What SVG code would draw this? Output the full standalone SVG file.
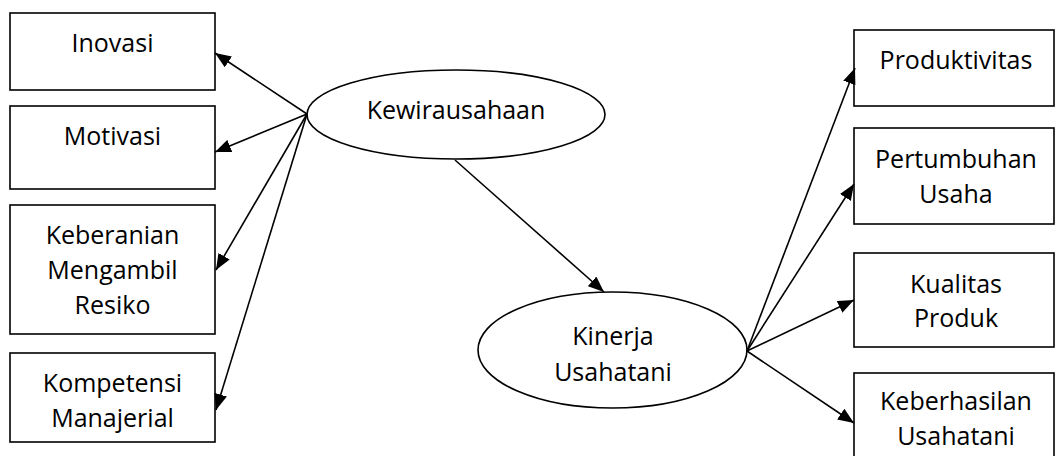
<svg xmlns="http://www.w3.org/2000/svg" width="1055" height="456" viewBox="0 0 1055 456">
  <style>
    .box { fill: #fff; stroke: #000; stroke-width: 1.6; }
    .oval { fill: #fff; stroke: #000; stroke-width: 1.6; }
    .lbl { font-family: "Open Sans", "Liberation Sans", sans-serif; font-size: 25px; fill: #000; text-anchor: middle; }
    .edge { stroke: #000; stroke-width: 1.6; fill: none; marker-end: url(#arrow); }
  </style>
  <defs>
    <marker id="arrow" markerUnits="userSpaceOnUse" markerWidth="16" markerHeight="13" refX="16" refY="6.5" orient="auto">
      <path d="M0,0 L16,6.5 L0,13 z" fill="#000"/>
    </marker>
  </defs>
  <rect width="1055" height="456" fill="#fff"/>

  <!-- indicators of Kewirausahaan -->
  <g id="inovasi">
    <rect class="box" x="10" y="13" width="205" height="77"/>
    <text class="lbl" x="112.5" y="52">Inovasi</text>
  </g>
  <g id="motivasi">
    <rect class="box" x="10" y="106" width="205" height="83"/>
    <text class="lbl" x="112.5" y="145">Motivasi</text>
  </g>
  <g id="keberanian">
    <rect class="box" x="10" y="205" width="205" height="129"/>
    <text class="lbl" x="112.5" y="244">Keberanian</text>
    <text class="lbl" x="112.5" y="279">Mengambil</text>
    <text class="lbl" x="112.5" y="314">Resiko</text>
  </g>
  <g id="kompetensi">
    <rect class="box" x="10" y="353" width="205" height="89"/>
    <text class="lbl" x="112.5" y="392">Kompetensi</text>
    <text class="lbl" x="112.5" y="427">Manajerial</text>
  </g>

  <!-- latent variables -->
  <g id="kewirausahaan">
    <ellipse class="oval" cx="456" cy="114.5" rx="149" ry="44.5"/>
    <text class="lbl" x="456" y="119">Kewirausahaan</text>
  </g>
  <g id="kinerja">
    <ellipse class="oval" cx="612.5" cy="350" rx="134.5" ry="58"/>
    <text class="lbl" x="613" y="345">Kinerja</text>
    <text class="lbl" x="613" y="381">Usahatani</text>
  </g>

  <!-- indicators of Kinerja Usahatani -->
  <g id="produktivitas">
    <rect class="box" x="854" y="30" width="200" height="76"/>
    <text class="lbl" x="956" y="69">Produktivitas</text>
  </g>
  <g id="pertumbuhan">
    <rect class="box" x="854" y="128" width="200" height="96"/>
    <text class="lbl" x="956" y="168">Pertumbuhan</text>
    <text class="lbl" x="956" y="203">Usaha</text>
  </g>
  <g id="kualitas">
    <rect class="box" x="854" y="253" width="200" height="94"/>
    <text class="lbl" x="956" y="293">Kualitas</text>
    <text class="lbl" x="956" y="327">Produk</text>
  </g>
  <g id="keberhasilan">
    <rect class="box" x="854" y="373" width="200" height="95"/>
    <text class="lbl" x="956" y="410">Keberhasilan</text>
    <text class="lbl" x="956" y="445">Usahatani</text>
  </g>

  <!-- connectors -->
  <g id="connectors">
    <line class="edge" x1="307" y1="114" x2="215" y2="53"/>
    <line class="edge" x1="307" y1="114" x2="215" y2="152"/>
    <line class="edge" x1="307" y1="114" x2="216" y2="270"/>
    <line class="edge" x1="307" y1="114" x2="216" y2="410"/>
    <line class="edge" x1="455" y1="160" x2="604" y2="292"/>
    <line class="edge" x1="747" y1="351" x2="855" y2="68"/>
    <line class="edge" x1="747" y1="351" x2="854" y2="184"/>
    <line class="edge" x1="747" y1="351" x2="854" y2="300"/>
    <line class="edge" x1="747" y1="351" x2="854" y2="423"/>
  </g>
</svg>
